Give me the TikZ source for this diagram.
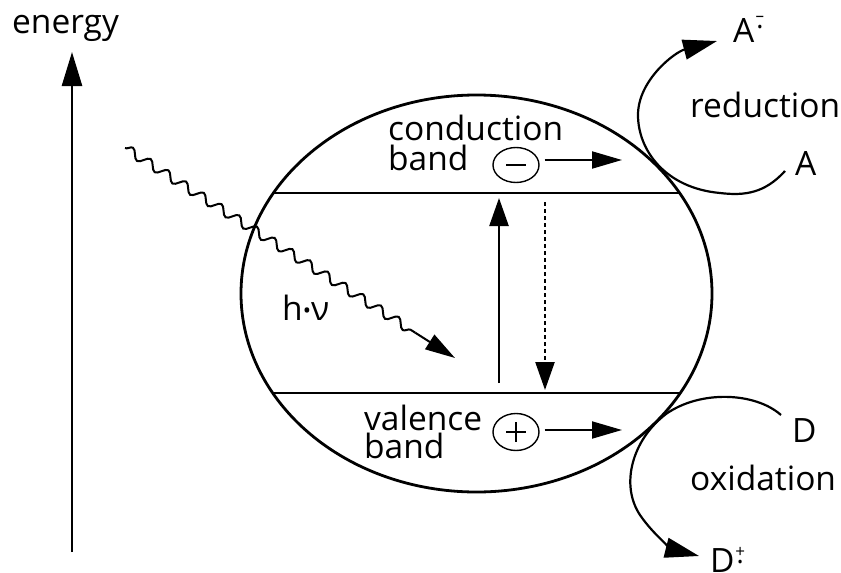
\documentclass[tikz,border=0pt]{standalone}
\usepackage{fontspec}
\setmainfont{Open Sans}
\usetikzlibrary{arrows.meta,decorations.pathmorphing,shapes.geometric,calc}
\tikzset{
  lbl/.style={anchor=base west,inner sep=0pt,font=\fontsize{33.5}{36}\selectfont},
  bigtip/.style={-{Triangle[length=34pt,width=20pt]}},
  midtip/.style={-{Triangle[length=30pt,width=17pt]}},
}
\newcommand{\supstack}[4]{\makebox[11pt][c]{\rlap{\makebox[11pt][c]{\raisebox{#2}{\fontsize{17}{17}\selectfont #1}}}\makebox[11pt][c]{\raisebox{#4}{\fontsize{15}{15}\selectfont #3}}}}
\begin{document}
\begin{tikzpicture}[x=1pt,y=-1pt]
\useasboundingbox (0,0) rectangle (841,573);
% energy axis
\coordinate (e0) at (72,552);
\coordinate (e1) at (72,52);
\draw[line width=2.6pt,bigtip] (e0) -- (e1);
\node[lbl] (energy) at (12,33) {energy};
% particle
\node[draw,ellipse,line width=2.8pt,minimum width=471pt,minimum height=397pt,inner sep=0pt] (part) at (476.5,293.5) {};
\begin{scope}
  \clip (476.5,293.5) ellipse [x radius=235.5, y radius=198.5];
  \coordinate (cbL) at (230,193); \coordinate (cbR) at (720,193);
  \coordinate (vbL) at (230,393); \coordinate (vbR) at (720,393);
  \draw[line width=2.6pt] (cbL) -- (cbR);
  \draw[line width=2.6pt] (vbL) -- (vbR);
\end{scope}
% labels
\node[lbl] (cond) at (388,140) {conduction};
\node[lbl] (cband) at (388,170) {band};
\node[lbl] (val) at (364,430) {valence};
\node[lbl] (vband) at (364,458) {band};
\node[lbl] (hnu) at (282,320) {h\raisebox{2pt}{\fontsize{22}{22}\selectfont•}ν};
% charges
\node[draw,ellipse,line width=1.4pt,minimum width=46pt,minimum height=35pt,inner sep=0pt] (minus) at (516,165) {};
\draw[line width=2pt] (506,165) -- (526,165);
\node[draw,ellipse,line width=1.4pt,minimum width=46pt,minimum height=37pt,inner sep=0pt] (plus) at (516,432) {};
\draw[line width=1.8pt] (506,432) -- (526,432) (516,422) -- (516,442);
\coordinate (mt) at (622,160);
\coordinate (pt) at (622,430);
\draw[line width=2pt,midtip] ($(minus.east)+(5,-5)$) -- (mt);
\draw[line width=2pt,midtip] ($(plus.east)+(5,-2)$) -- (pt);
% transitions
\coordinate (upS) at (499,383); \coordinate (upE) at (499,198);
\coordinate (dnS) at (545,202); \coordinate (dnE) at (545,390);
\draw[line width=2.4pt,-{Triangle[length=28pt,width=19pt]}] (upS) -- (upE);
\draw[line width=2.4pt,dash pattern=on 4pt off 3pt,-{Triangle[length=28pt,width=19pt]}] (dnS) -- (dnE);
% photon
\coordinate (ph0) at (125,148);
\coordinate (ph1) at (455,358);
\coordinate (ph2) at ($(ph0)!0.88!(ph1)$);
\draw[line width=2pt,decorate,decoration={snake,amplitude=4.5pt,segment length=21pt}] (ph0) -- (ph2);
\draw[line width=2pt,midtip] (ph2) -- (ph1);
% reduction
\node[lbl] (red) at (690,117) {reduction};
\node[lbl] (A) at (795,175) {A};
\node[lbl] (Arad) at (733,42) {A\supstack{–}{21pt}{•}{10pt}};
\coordinate (r0) at (785,171);
\coordinate (r3) at (717,41);
\draw[line width=2.2pt,bigtip] (r0) .. controls (765,193) and (745,196) .. (720,193)
  .. controls (665,188) and (638,150) .. (638,115)
  .. controls (638,80) and (675,52) .. (r3);
% oxidation
\node[lbl] (ox) at (690,490) {oxidation};
\node[lbl] (D) at (792,442) {D};
\node[lbl] (Drad) at (710,572) {D\supstack{+}{15pt}{•}{5pt}};
\coordinate (o0) at (781,415);
\coordinate (o3) at (699,556);
\draw[line width=2.2pt,bigtip] (o0) .. controls (755,392) and (700,390) .. (666,414)
  .. controls (632,440) and (620,485) .. (640,515)
  .. controls (655,537) and (675,550) .. (o3);
\end{tikzpicture}
\end{document}
